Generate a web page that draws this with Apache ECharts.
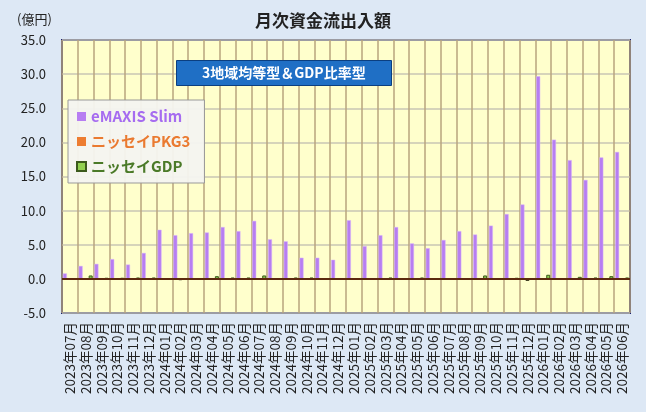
<!DOCTYPE html>
<html>
<head>
<meta charset="utf-8">
<script src="https://cdn.jsdelivr.net/npm/echarts@6/dist/echarts.min.js"></script>
<style>
  html, body { margin: 0; padding: 0; background: #dde8f5; }
  #chartmain { width: 646px; height: 412px; }
</style>
</head>
<body>
<div id="chartmain"></div>
<script>
// 月次 2023/07 - 2026/06
var months = [
  '2023年07月','2023年08月','2023年09月','2023年10月','2023年11月','2023年12月',
  '2024年01月','2024年02月','2024年03月','2024年04月','2024年05月','2024年06月',
  '2024年07月','2024年08月','2024年09月','2024年10月','2024年11月','2024年12月',
  '2025年01月','2025年02月','2025年03月','2025年04月','2025年05月','2025年06月',
  '2025年07月','2025年08月','2025年09月','2025年10月','2025年11月','2025年12月',
  '2026年01月','2026年02月','2026年03月','2026年04月','2026年05月','2026年06月'
];
var slim = [
  0.8, 1.9, 2.2, 2.9, 2.1, 3.8,
  7.2, 6.4, 6.7, 6.8, 7.6, 7.0,
  8.5, 5.8, 5.5, 3.1, 3.1, 2.8,
  8.6, 4.8, 6.4, 7.6, 5.2, 4.5,
  5.7, 7.0, 6.5, 7.8, 9.5, 10.9,
  29.7, 20.4, 17.4, 14.5, 17.8, 18.6
];
var pkg3 = [
  0.05, 0.05, 0.05, 0.05, 0.05, 0.05,
  0.05, -0.2, 0.05, 0.05, 0.05, 0.05,
  0.05, 0.05, 0.05, 0.05, -0.1, -0.1,
  0.05, 0.05, 0.05, 0.05, 0.05, 0.05,
  0.05, 0.05, 0.05, 0.05, 0.05, -0.3,
  0.05, 0.05, 0.05, 0.05, 0.05, 0.05
];
var gdp = [
  0.1, 0.5, 0.15, 0.15, 0.2, 0.2,
  0.1, 0.05, 0.1, 0.4, 0.2, 0.2,
  0.5, 0.1, 0.2, 0.2, 0.05, 0.05,
  0.1, 0.1, 0.2, 0.1, 0.2, 0.1,
  0.1, 0.1, 0.5, 0.1, 0.15, 0.05,
  0.6, 0.1, 0.3, 0.2, 0.4, 0.2
];
var yTicks = { min: -5, max: 35, step: 5 };

var font = '"Noto Sans CJK JP", "Noto Sans", sans-serif';

var option = {
  backgroundColor: '#dde8f5',
  textStyle: { fontFamily: font },
  title: [
    {
      text: '月次資金流出入額',
      left: 'center',
      top: 7,
      textStyle: { fontSize: 17, fontWeight: 'bold', color: '#222', fontFamily: font }
    },
    {
      text: '3地域均等型＆GDP比率型',
      left: 176,
      top: 60,
      padding: [6, 26, 6, 26],
      backgroundColor: '#1f6fc5',
      borderColor: '#0b3f80',
      borderWidth: 1,
      textStyle: { fontSize: 14, fontWeight: 'bold', color: '#fff', fontFamily: font }
    },
    {
      text: '(億円)',
      left: 12,
      top: 8,
      textStyle: { fontSize: 13, fontWeight: 'normal', color: '#222', fontFamily: font }
    }
  ],
  legend: {
    orient: 'vertical',
    left: 68,
    top: 100,
    padding: [9, 14, 9, 8],
    itemGap: 10,
    itemWidth: 9,
    itemHeight: 9,
    icon: 'rect',
    backgroundColor: 'rgba(244,244,240,0.95)',
    borderColor: '#999',
    borderWidth: 1,
    data: [
      { name: 'eMAXIS Slim', textStyle: { color: '#a66cf0' }, itemStyle: { borderWidth: 0 } },
      { name: 'ニッセイPKG3', textStyle: { color: '#ea7a30' }, itemStyle: { borderWidth: 0 } },
      { name: 'ニッセイGDP', textStyle: { color: '#4b7a28' } }
    ],
    textStyle: { fontSize: 15, fontWeight: 'bold', fontFamily: font }
  },
  grid: {
    left: 62,
    right: 16,
    top: 40,
    bottom: 99,
    show: true,
    backgroundColor: '#ffffcc',
    borderColor: '#1a2070',
    borderWidth: 2
  },
  xAxis: {
    type: 'category',
    data: months,
    axisLine: { show: false, onZero: false },
    axisTick: { show: false },
    splitLine: { show: true, lineStyle: { color: '#b8a57e', width: 1.5 } },
    axisLabel: {
      rotate: 90,
      interval: 0,
      fontSize: 13.5,
      color: '#222',
      margin: 9,
      fontFamily: font
    }
  },
  yAxis: {
    type: 'value',
    min: yTicks.min,
    max: yTicks.max,
    interval: yTicks.step,
    axisLine: { show: false },
    axisTick: { show: false },
    splitLine: { lineStyle: { color: '#c9c6b4', width: 1.5 } },
    axisLabel: {
      fontSize: 13,
      color: '#222',
      margin: 16,
      formatter: function (v) { return v.toFixed(1); }
    }
  },
  series: [
    {
      name: 'eMAXIS Slim',
      type: 'bar',
      data: slim,
      barWidth: 4,
      barGap: '25%',
      itemStyle: { color: '#b77ef2', borderColor: '#d9b8fa', borderWidth: 0.5 },
      markLine: {
        silent: true,
        symbol: 'none',
        label: { show: false },
        lineStyle: { color: '#5c2a0e', width: 2, type: 'solid' },
        data: [{ yAxis: 0 }]
      }
    },
    {
      name: 'ニッセイPKG3',
      type: 'bar',
      data: pkg3,
      barWidth: 4,
      itemStyle: { color: '#ed7d31', borderColor: '#3a3a20', borderWidth: 1 }
    },
    {
      name: 'ニッセイGDP',
      type: 'bar',
      data: gdp,
      barWidth: 4,
      itemStyle: { color: '#92d050', borderColor: '#3c5a1c', borderWidth: 1 }
    }
  ]
};

var myChart = echarts.init(document.getElementById('chartmain'));
myChart.setOption(option);
</script>
</body>
</html>
